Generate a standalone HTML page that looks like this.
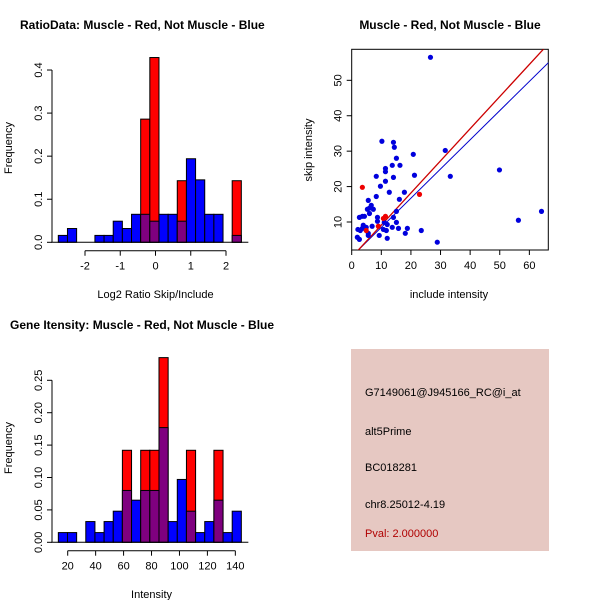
<!DOCTYPE html>
<html><head><meta charset="utf-8"><style>
body{margin:0;background:#fff;}
svg{display:block;font-family:"Liberation Sans",Arial,sans-serif;}
</style></head><body>
<svg id="chart" width="600" height="600" viewBox="0 0 600 600">
<rect width="600" height="600" fill="#fff"/>
<g id="p1"></g>
<g id="p2"></g>
<g id="p3"></g>
<g>
<rect x="351" y="349" width="198" height="202" fill="#E6C8C2"/>
<text x="365" y="396" font-size="11">G7149061@J945166_RC@i_at</text>
<text x="365" y="435" font-size="11">alt5Prime</text>
<text x="365" y="471" font-size="11">BC018281</text>
<text x="365" y="508" font-size="11">chr8.25012-4.19</text>
<text x="365" y="537" font-size="11" fill="#B00000">Pval: 2.000000</text>
</g>
</svg>
<script>
const ratioBlue=[0.016,0.032,0,0,0.016,0.016,0.049,0.032,0.065,0.065,0.049,0.065,0.065,0.049,0.194,0.145,0.065,0.065,0,0.016];
const ratioRed=[0,0,0,0,0,0,0,0,0,0.286,0.429,0,0,0.143,0,0,0,0,0,0.143];
const ratioStart=-2.757, ratioWidth=0.2596;
const ratioYTicks=[0,0.1,0.2,0.3,0.4];
const ratioYLabels=["0.0","0.1","0.2","0.3","0.4"];
const ratioXTicks=[-2,-1,0,1,2];

const intBlue=[0.015,0.015,0,0.032,0.015,0.032,0.048,0.080,0.065,0.080,0.080,0.177,0.032,0.097,0.048,0.015,0.032,0.065,0.015,0.048];
const intRed=[0,0,0,0,0,0,0,0.142,0,0.142,0.142,0.285,0,0,0.142,0,0,0.142,0,0];
const intStart=13.3, intWidth=6.55;
const intYTicks=[0,0.05,0.10,0.15,0.20,0.25];
const intYLabels=["0.00","0.05","0.10","0.15","0.20","0.25"];
const intXTicks=[20,40,60,80,100,120,140];

const blueX=[26.6,10.2,14.1,14.4,31.6,15.1,20.8,13.7,16.3,11.4,11.4,49.9,8.3,14.1,21.2,33.3,11.4,9.7,12.7,17.8,8.3,16.1,5.6,6.6,6.0,7.3,5.3,6.0,15.1,64.1,3.6,2.6,4.3,8.7,14.1,8.7,56.3,11.0,15.1,12.0,3.9,6.9,4.9,3.6,2.1,2.9,13.7,15.8,18.8,11.7,10.7,23.5,18.1,9.3,5.6,1.9,2.6,12.0,28.9,5.6];
const blueY=[56.5,32.8,32.5,31.1,30.2,28.0,29.1,26.0,26.0,25.1,24.2,24.7,22.9,22.6,23.2,22.9,21.5,20.1,18.4,18.4,17.2,16.4,16.1,14.7,13.9,13.6,13.6,12.4,13.0,13.0,11.6,11.3,11.6,11.3,11.3,10.2,10.5,9.9,9.9,9.3,9.1,8.8,8.5,8.2,7.9,7.6,8.5,8.2,8.2,7.6,7.9,7.6,6.8,6.2,6.2,5.7,5.1,5.4,4.3,6.8];
const redX=[3.6,22.9,11.4,10.7,9.0,4.9];
const redY=[19.8,17.8,11.6,11.0,8.8,7.6];
const scatXTicks=[0,10,20,30,40,50,60];
const scatYTicks=[10,20,30,40,50];
const redFit=[0.06,0.907];
const blueFit=[0.25,0.824];

const NS="http://www.w3.org/2000/svg";
function mk(parent,tag,attrs,txt){const e=document.createElementNS(NS,tag);for(const k in attrs)e.setAttribute(k,attrs[k]);if(txt!==undefined)e.textContent=txt;parent.appendChild(e);return e;}

function hist(g,blue,red,start,width,sx,sy,yt,yl,xt,base,axisY,yAxisX,title,titleX,titleY,xlab,xlabY,ylabY){
  for(let i=0;i<blue.length;i++){
    const x0=sx(start+i*width),x1=sx(start+(i+1)*width);
    const b=blue[i],r=red[i];
    const top=Math.max(b,r);
    if(top<=0)continue;
    const bar=mk(g,'rect',{x:x0,y:sy(top),width:x1-x0,height:base-sy(top),fill:r>b?'#FF0000':'#0000FF',stroke:'#000','stroke-width':1});
    
    
    if(b>0&&r>0){
      const m=Math.min(b,r);
      const ov=mk(g,'rect',{x:x0,y:sy(m),width:x1-x0,height:base-sy(m),fill:'#7F007F',stroke:'#000','stroke-width':1});
      
      
    }
  }
  mk(g,'line',{x1:yAxisX,x2:yAxisX,y1:sy(yt[0]),y2:sy(yt[yt.length-1]),stroke:'#000'});
  yt.forEach((v,i)=>{const y=sy(v);mk(g,'line',{x1:yAxisX-5,x2:yAxisX,y1:y,y2:y,stroke:'#000'});
    const t=mk(g,'text',{x:yAxisX-10,y:y,'font-size':11,'text-anchor':'middle',transform:`rotate(-90 ${yAxisX-10} ${y})`},yl[i]);
    });
  mk(g,'line',{x1:sx(xt[0]),x2:sx(xt[xt.length-1]),y1:axisY,y2:axisY,stroke:'#000'});
  xt.forEach(v=>{const x=sx(v);mk(g,'line',{x1:x,x2:x,y1:axisY,y2:axisY+5,stroke:'#000'});
    const t=mk(g,'text',{x:x,y:axisY+19,'font-size':11,'text-anchor':'middle'},String(v));
    });
  const bl=mk(g,'line',{x1:sx(start)-7,x2:sx(start+blue.length*width)+7,y1:base,y2:base,stroke:'#000'});
  const tt=mk(g,'text',{x:titleX,y:titleY,'font-size':12,'font-weight':'bold'},title);
  
  const xl=mk(g,'text',{x:(sx(xt[0])+sx(xt[xt.length-1]))/2,y:xlabY,'font-size':11,'text-anchor':'middle'},xlab);
  
  const yl2=mk(g,'text',{x:12,y:ylabY,'font-size':11,'text-anchor':'middle',transform:`rotate(-90 12 ${ylabY})`},'Frequency');
  
}

// Panel 1
{const sx=v=>155.5+v*35.25, sy=v=>242.3-v*430.7;
hist(document.getElementById('p1'),ratioBlue,ratioRed,ratioStart,ratioWidth,sx,sy,ratioYTicks,ratioYLabels,ratioXTicks,242.3,250.7,52,'RatioData: Muscle - Red, Not Muscle - Blue',20,29,'Log2 Ratio Skip/Include',298,148);}
// Panel 3
{const sx=v=>67.7+(v-20)*1.397, sy=v=>542.3-v*648;
hist(document.getElementById('p3'),intBlue,intRed,intStart,intWidth,sx,sy,intYTicks,intYLabels,intXTicks,542.3,550.7,52,'Gene Itensity: Muscle - Red, Not Muscle - Blue',10,329,'Intensity',598,448);}
// Panel 2 scatter
{const g=document.getElementById('p2');
const sx=v=>351.7+v*2.961, sy=v=>222-(v-10)*3.542;
const L=351.7,R=548.3,T=49.3,B=250;
mk(g,'rect',{x:L,y:T,width:R-L,height:B-T,fill:'none',stroke:'#000'});
const clip=mk(g,'clipPath',{id:'sc'});mk(clip,'rect',{x:L,y:T,width:R-L,height:B-T});
const lg=mk(g,'g',{'clip-path':'url(#sc)'});
const x0=0,x1=70;
const bl=mk(lg,'line',{x1:sx(x0),y1:sy(blueFit[0]+blueFit[1]*x0),x2:sx(x1),y2:sy(blueFit[0]+blueFit[1]*x1),stroke:'#0000CC','stroke-width':1});

const rl=mk(lg,'line',{x1:sx(x0),y1:sy(redFit[0]+redFit[1]*x0),x2:sx(x1),y2:sy(redFit[0]+redFit[1]*x1),stroke:'#CC0000','stroke-width':1.3});

blueX.forEach((v,i)=>{const c=mk(lg,'circle',{cx:sx(v),cy:sy(blueY[i]),r:2.6,fill:'#0000DD'});
  });
redX.forEach((v,i)=>{const c=mk(lg,'circle',{cx:sx(v),cy:sy(redY[i]),r:2.6,fill:'#EE0000'});
  });
scatXTicks.forEach(v=>{const x=sx(v);mk(g,'line',{x1:x,x2:x,y1:B,y2:B+5,stroke:'#000'});
  const t=mk(g,'text',{x:x,y:B+19,'font-size':11,'text-anchor':'middle'},String(v));
  });
scatYTicks.forEach(v=>{const y=sy(v);mk(g,'line',{x1:L-5,x2:L,y1:y,y2:y,stroke:'#000'});
  const t=mk(g,'text',{x:L-10,y:y,'font-size':11,'text-anchor':'middle',transform:`rotate(-90 ${L-10} ${y})`},String(v));
  });
const tt=mk(g,'text',{x:450,y:29,'font-size':12,'font-weight':'bold','text-anchor':'middle'},'Muscle - Red, Not Muscle - Blue');

const xl=mk(g,'text',{x:449,y:298,'font-size':11,'text-anchor':'middle'},'include intensity');

const yl=mk(g,'text',{x:312,y:150,'font-size':11,'text-anchor':'middle',transform:'rotate(-90 312 150)'},'skip intensity');

}
</script>
</body></html>
